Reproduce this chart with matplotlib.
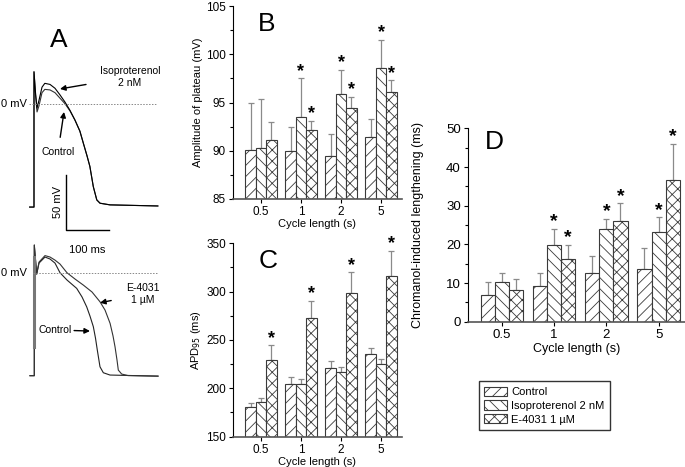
import numpy as np
import matplotlib
matplotlib.use('Agg')
import matplotlib.pyplot as plt
from matplotlib.ticker import MultipleLocator

plt.rcParams['font.family'] = ['Liberation Sans', 'DejaVu Sans']
plt.rcParams['hatch.linewidth'] = 0.6

# ---- panel A traces (time in ms, membrane potential in mV) ----
ctl_a_t = [-10, 0, 0, 3.5, 7, 11.5, 18.5, 25, 37, 48.5, 60, 71.5, 83, 94.7, 106, 114,
           122.5, 129, 137, 145, 152.5, 175.5, 286]
ctl_a_v = [-94, -94, 29, 8, -7.5, -2, 10, 13, 12.5, 10, 5, 0, -6.5, -15, -25, -36,
           -47.5, -57, -75.5, -87.5, -90.5, -92, -93]
iso_a_t = [-10, 0, 0, 3.5, 7, 11.5, 18.5, 25, 37, 48.5, 60, 71.5, 83, 94.7, 106, 114,
           122.5, 129, 137, 145, 152.5, 175.5, 286]
iso_a_v = [-94, -94, 29, 10, -4, 3, 15, 18.5, 17.5, 14, 8, 1.5, -6, -15, -25, -36,
           -47.5, -57, -75.5, -87.5, -90.5, -92, -93]

ctl_b_t = [-10, 0, 0, 5.5, 10.9, 24.7, 36.3, 47.8, 59.4, 75.5, 97.9, 110.2, 121, 128.6,
           136.3, 141.3, 145.5, 151.7, 159.4, 174.8, 285.7]
ctl_b_v = [-93.6, -93.6, 25.2, -1.2, 8.8, 14.3, 12.5, 8.8, 0, -6.6, -14.2, -22, -31, -39.4,
           -49, -59.4, -70.3, -85.5, -90.9, -93, -94]
e4031_b_t = [-10, 0, 0, 5.5, 10.9, 24.7, 36.3, 47.8, 59.4, 75.5, 94, 113.2, 133.3, 151.7,
             163.3, 175, 181.8, 186.4, 191, 194, 201.8, 216.4, 285.7]
e4031_b_v = [-93.6, -93.6, 25.2, -1.2, 9.7, 15.6, 14.3, 11.5, 7.9, 0, -5.7, -11.2, -17.5,
             -26.4, -33.9, -46, -57.5, -67.3, -79.4, -88.5, -92.1, -93.5, -94]

# ---- bar data ----
cycle_labels = ['0.5', '1', '2', '5']
series_names = ['Control', 'Isoproterenol 2 nM', 'E-4031 1 \u00b5M']

plateau_ctl = [90.1, 90.0, 89.5, 91.4]
plateau_ctl_err = [4.8, 2.5, 2.2, 1.9]
plateau_iso = [90.3, 93.5, 95.85, 98.6]
plateau_iso_err = [5.1, 4.0, 2.5, 2.9]
plateau_e4031 = [91.1, 92.1, 94.45, 96.1]
plateau_e4031_err = [1.9, 1.0, 1.1, 1.2]
plateau_stars = [[False] * 4, [False, True, True, True], [False, True, True, True]]

apd_ctl = [180.4, 204.2, 220.5, 235.0]
apd_ctl_err = [4.1, 7.5, 7.5, 7.0]
apd_iso = [185.5, 204.2, 216.6, 225.2]
apd_iso_err = [4.2, 5.5, 5.4, 5.2]
apd_e4031 = [229.3, 272.4, 298.5, 316.5]
apd_e4031_err = [15.2, 17.9, 21.5, 25.5]
apd_stars = [[False] * 4, [False] * 4, [True] * 4]

chrom_ctl = [6.9, 9.2, 12.7, 13.6]
chrom_ctl_err = [3.3, 3.5, 4.3, 5.4]
chrom_iso = [10.2, 19.9, 24.0, 23.1]
chrom_iso_err = [2.3, 4.1, 2.6, 3.9]
chrom_e4031 = [8.2, 16.2, 26.0, 36.6]
chrom_e4031_err = [2.8, 3.7, 4.6, 9.4]
chrom_stars = [[False] * 4, [False, True, True, True], [False, True, True, True]]

hatches = ['///', '\\\\\\', 'xxx']
edge = '#3a3a3a'
err_col = '#8a8a8a'


def bar_panel(ax, vals, errs, stars, width, star_size, floor=0):
    x = np.arange(len(cycle_labels))
    bars = []
    for i in range(3):
        pos = x + (i - 1) * width
        heights = np.array(vals[i]) - floor
        b = ax.bar(pos, heights, width, bottom=floor, color='white', edgecolor=edge,
                   hatch=hatches[i], linewidth=0.8, label=series_names[i], zorder=2)
        bars.append(b)
        ax.errorbar(pos, vals[i], yerr=[np.zeros(len(x)), errs[i]], fmt='none',
                    ecolor=err_col, elinewidth=0.9, capsize=2, capthick=0.9, zorder=1)
        for p, v, e, s in zip(pos, vals[i], errs[i], stars[i]):
            if s:
                ax.annotate('*', (p, v + e), xytext=(0, -1), textcoords='offset points',
                            ha='center', va='bottom', fontsize=star_size, fontweight='bold')
    ax.set_xticks(x)
    ax.set_xticklabels(cycle_labels)
    for s in ['top', 'right']:
        ax.spines[s].set_visible(False)
    ax.spines['bottom'].set_color('#555555')
    ax.spines['bottom'].set_linewidth(1.2)
    ax.tick_params(axis='x', length=3, width=0.8, pad=2)
    ax.tick_params(axis='y', which='both', width=0.8, pad=2)
    ax.tick_params(axis='y', which='minor', length=2)
    ax.tick_params(axis='y', which='major', length=3)
    return bars


fig = plt.figure(figsize=(6.85, 4.67), dpi=100)

# ---- panel B ----
axB = fig.add_axes([0.340, 0.574, 0.247, 0.413])
axB.set_ylim(85, 105)
axB.set_xlim(-0.7, 3.525)
bar_panel(axB, [plateau_ctl, plateau_iso, plateau_e4031],
          [plateau_ctl_err, plateau_iso_err, plateau_e4031_err], plateau_stars, 0.26, 13,
          floor=85)
axB.yaxis.set_major_locator(MultipleLocator(5))
axB.yaxis.set_minor_locator(MultipleLocator(2.5))
axB.tick_params(labelsize=8.5)
axB.set_xlabel('Cycle length (s)', fontsize=8, labelpad=1)
axB.set_ylabel('Amplitude of plateau (mV)', fontsize=8, labelpad=2)
axB.text(0.15, 0.97, 'B', transform=axB.transAxes, fontsize=19, va='top')

# ---- panel C ----
axC = fig.add_axes([0.340, 0.065, 0.247, 0.414])
axC.set_ylim(150, 350)
axC.set_xlim(-0.7, 3.525)
bar_panel(axC, [apd_ctl, apd_iso, apd_e4031],
          [apd_ctl_err, apd_iso_err, apd_e4031_err], apd_stars, 0.26, 13, floor=150)
axC.yaxis.set_major_locator(MultipleLocator(50))
axC.yaxis.set_minor_locator(MultipleLocator(25))
axC.tick_params(labelsize=8.5)
axC.set_xlabel('Cycle length (s)', fontsize=8, labelpad=1)
axC.set_ylabel('APD$_{95}$ (ms)', fontsize=8, labelpad=2)
axC.text(0.15, 0.97, 'C', transform=axC.transAxes, fontsize=19, va='top')

# ---- panel D ----
axD = fig.add_axes([0.683, 0.311, 0.317, 0.414])
axD.set_ylim(0, 50)
axD.set_xlim(-0.65, 3.505)
bars = bar_panel(axD, [chrom_ctl, chrom_iso, chrom_e4031],
                 [chrom_ctl_err, chrom_iso_err, chrom_e4031_err], chrom_stars, 0.27, 14)
axD.yaxis.set_major_locator(MultipleLocator(10))
axD.yaxis.set_minor_locator(MultipleLocator(5))
axD.tick_params(labelsize=9.5)
axD.set_xlabel('Cycle length (s)', fontsize=9, labelpad=2)
axD.set_ylabel('Chromanol-induced lengthening (ms)', fontsize=9, labelpad=16)
axD.text(0.08, 0.99, 'D', transform=axD.transAxes, fontsize=19, va='top')

leg = fig.legend(bars, series_names, loc='upper left', bbox_to_anchor=(0.699, 0.184),
                 fontsize=8, frameon=True, fancybox=False, edgecolor='black',
                 handlelength=2.0, handleheight=0.9, borderpad=0.5, labelspacing=0.3,
                 handletextpad=0.4, borderaxespad=0)
leg.get_frame().set_linewidth(1.0)

# ---- panel A top ----
axA1 = fig.add_axes([0.0, 0.4433, 0.2482, 0.4925])
axA1.set_xlim(-78.5, 314.1)
axA1.set_ylim(-142.1, 67.0)
axA1.axis('off')
axA1.plot(ctl_a_t, ctl_a_v, color='#333333', lw=0.8)
axA1.plot(iso_a_t, iso_a_v, color='black', lw=0.8)
axA1.plot([-11.5, 284], [0, 0], color='#888888', lw=0.7, ls=(0, (1.5, 1.5)))
axA1.text(-16.2, 0, '0 mV', ha='right', va='center', fontsize=8)
axA1.plot([73.2, 73.2, 173.2], [-64.8, -114.8, -114.8], color='black', lw=1)
axA1.text(55.4, -89.4, '50 mV', rotation=90, ha='center', va='center', fontsize=8)
axA1.text(122.4, -133, '100 ms', ha='center', va='center', fontsize=8)
axA1.text(57.7, 57.9, 'A', ha='center', va='center', fontsize=19)
axA1.annotate('Isoproterenol\n2 nM', xy=(60, 13.4), xytext=(221.7, 24.3), ha='center',
              va='center', fontsize=7.5,
              arrowprops=dict(arrowstyle='-|>', color='black', lw=1, shrinkA=8, shrinkB=0,
                              mutation_scale=8))
axA1.annotate('Control', xy=(69.3, -7.5), xytext=(55.4, -43.9), ha='center', va='center',
              fontsize=7.5,
              arrowprops=dict(arrowstyle='-|>', color='black', lw=1, shrinkA=5, shrinkB=0,
                              mutation_scale=8))

# ---- panel A bottom ----
axA2 = fig.add_axes([0.0, 0.1006, 0.2482, 0.3961])
axA2.set_xlim(-79.2, 313.4)
axA2.set_ylim(-133.9, 34.3)
axA2.axis('off')
axA2.plot(ctl_b_t, ctl_b_v, color='#222222', lw=0.8)
axA2.plot(e4031_b_t, e4031_b_v, color='#333333', lw=0.8)
axA2.plot([0, 0], [14.5, -67.3], color='#777777', lw=2.2)
axA2.plot([-3, 283], [0, 0], color='#888888', lw=0.7, ls=(0, (1.5, 1.5)))
axA2.text(-16.9, 0, '0 mV', ha='right', va='center', fontsize=8)
axA2.annotate('E-4031\n1 \u00b5M', xy=(151.7, -27.3), xytext=(251, -19.4), ha='center',
              va='center', fontsize=7.5,
              arrowprops=dict(arrowstyle='-|>', color='black', lw=1, shrinkA=9, shrinkB=0,
                              mutation_scale=8))
axA2.annotate('Control', xy=(128.6, -53), xytext=(47.1, -52), ha='center', va='center',
              fontsize=7.5,
              arrowprops=dict(arrowstyle='-|>', color='black', lw=1, shrinkA=16, shrinkB=0,
                              mutation_scale=8))

fig.savefig('out.png', dpi=100)
